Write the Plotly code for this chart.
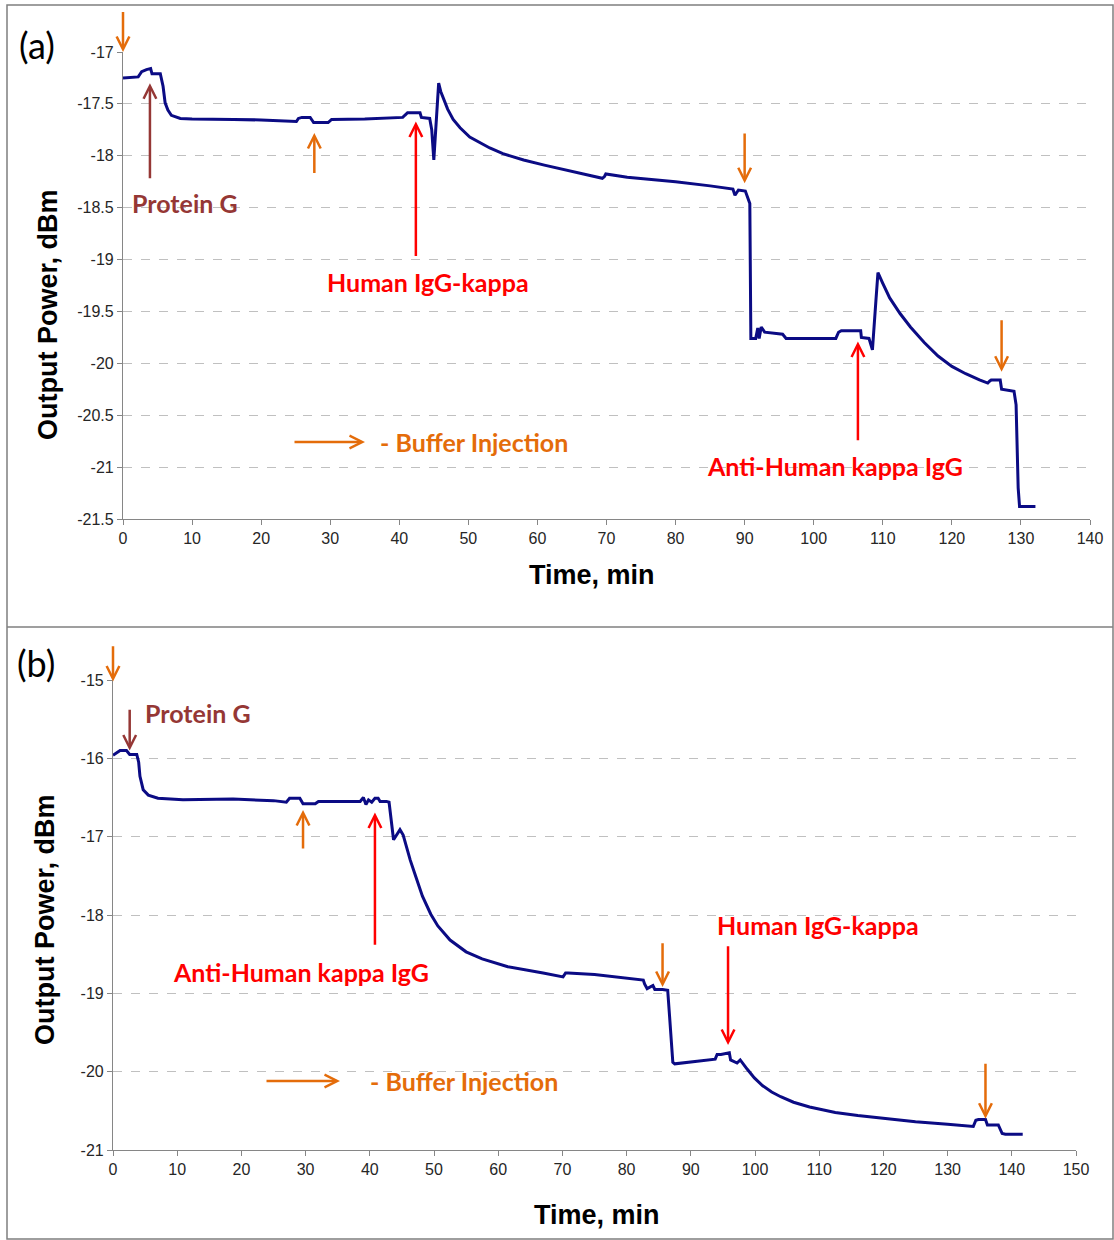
import plotly.graph_objects as go

W, H = 1114, 1240

# ---------------- data ----------------
time_a = [0, 2.2, 2.5, 2.7, 3.4, 4.0, 4.2, 5.4, 5.8, 6.1, 6.5, 7.0, 8.3, 10, 16, 20,
          25.1, 25.4, 25.9, 27.1, 27.4, 27.6, 29.7, 30.2, 35, 40.5, 40.8, 41.2, 43.0, 43.2,
          44.4, 44.7, 45.0, 45.3, 45.7, 46.0, 46.4, 47.0, 47.8, 48.8, 50.2, 51.5, 53.1, 55,
          58, 61, 63.3, 66, 69.4, 69.7, 69.9, 73, 80, 85, 88.3, 88.6, 89.1, 90.1, 90.4,
          90.75, 90.9, 91.6, 91.9, 92.1, 92.4, 92.9, 95.5, 96.0, 100, 103.2, 103.6, 104.0,
          106.8, 106.9, 108.0, 108.5, 109.0, 109.3, 110, 111, 112.5, 114, 116, 118,
          120, 122, 124, 125.2, 125.5, 125.7, 127.0, 127.2, 129.0, 129.3, 129.6, 129.8, 132.1]
power_a = [-17.25, -17.24, -17.21, -17.19, -17.17, -17.16, -17.21, -17.21, -17.33, -17.49,
           -17.56, -17.61, -17.64, -17.645, -17.65, -17.655, -17.67, -17.64, -17.63, -17.63,
           -17.66, -17.68, -17.68, -17.65, -17.645, -17.63, -17.61, -17.585, -17.585, -17.63,
           -17.64, -17.75, -18.04, -17.7, -17.30, -17.38, -17.45, -17.55, -17.65, -17.73,
           -17.82, -17.87, -17.925, -17.98, -18.04, -18.09, -18.125, -18.165, -18.217, -18.2,
           -18.175, -18.207, -18.25, -18.29, -18.32, -18.38, -18.33, -18.34, -18.39, -18.46,
           -19.76, -19.76, -19.66, -19.76, -19.65, -19.70, -19.72, -19.76, -19.76, -19.76,
           -19.70, -19.685, -19.685, -19.75, -19.76, -19.87, -19.4, -19.126, -19.23, -19.37,
           -19.52, -19.65, -19.8, -19.93, -20.03, -20.1, -20.16, -20.19, -20.17, -20.16,
           -20.16, -20.25, -20.27, -20.4, -21.2, -21.38, -21.38]

time_b = [0, 1.1, 2.1, 2.6, 3.7, 4.0, 4.2, 4.7, 5.5, 7, 10.9, 18.7, 25, 27.0, 27.5, 29.1,
          29.6, 31.5, 32, 38.5, 39.0, 39.4, 39.8, 40.3, 40.8, 41.3, 41.6, 42.6, 43.0, 43.3,
          43.7, 44.0, 44.7, 45.2, 45.8, 46.3, 47.0, 48.2, 49.5, 50.6, 52.5, 55, 57.5, 61.5,
          67, 70.1, 70.5, 70.9, 75, 82.6, 82.8, 83.2, 84.1, 84.4, 85.6, 86.4, 86.7, 87.2,
          87.5, 93.8, 94.1, 94.7, 96.0, 96.2, 97.2, 97.7, 98.8, 99.9, 101.2, 102.6, 104,
          106, 108.5, 112.5, 116, 120.2, 125, 130, 134.0, 134.4, 134.8, 135.9, 136.2, 137.9,
          138.5, 139, 141.7]
power_b = [-15.96, -15.90, -15.90, -15.95, -15.95, -16.05, -16.23, -16.40, -16.47, -16.51,
           -16.53, -16.52, -16.54, -16.56, -16.51, -16.51, -16.58, -16.58, -16.55, -16.55,
           -16.50, -16.59, -16.53, -16.56, -16.51, -16.51, -16.55, -16.55, -16.56, -16.75,
           -17.04, -17.0, -16.91, -16.98, -17.17, -17.3, -17.47, -17.76, -17.99, -18.14,
           -18.32, -18.47, -18.56, -18.66, -18.74, -18.79, -18.74, -18.74, -18.76, -18.83,
           -18.88, -18.94, -18.9, -18.95, -18.95, -18.96, -19.3, -19.88, -19.9, -19.84,
           -19.78, -19.78, -19.76, -19.85, -19.89, -19.85, -19.97, -20.08, -20.18, -20.26,
           -20.32, -20.39, -20.45, -20.52, -20.56, -20.6, -20.64, -20.67, -20.7, -20.62,
           -20.61, -20.61, -20.68, -20.68, -20.79, -20.8, -20.8]

xticks_a = [0, 10, 20, 30, 40, 50, 60, 70, 80, 90, 100, 110, 120, 130, 140]
yticks_a = [-17, -17.5, -18, -18.5, -19, -19.5, -20, -20.5, -21, -21.5]
yticklabels_a = ["-17", "-17.5", "-18", "-18.5", "-19", "-19.5", "-20", "-20.5", "-21", "-21.5"]
xticks_b = [0, 10, 20, 30, 40, 50, 60, 70, 80, 90, 100, 110, 120, 130, 140, 150]
yticks_b = [-15, -16, -17, -18, -19, -20, -21]
yticklabels_b = ["-15", "-16", "-17", "-18", "-19", "-20", "-21"]

# ---------------- styling ----------------
NAVY = "#0b0b84"
ORANGE = "#e46c0a"
BROWN = "#953735"
RED = "#ff0000"
TICKFONT = dict(family="Liberation Sans, Arial", size=16, color="#262626")
ANNFONT = "Lato"


def px(x):
    return x / W


def py(y):
    return 1 - y / H


fig = go.Figure()
fig.add_trace(go.Scatter(x=time_a, y=power_a, mode="lines", xaxis="x", yaxis="y",
                         line=dict(color=NAVY, width=3), showlegend=False))
fig.add_trace(go.Scatter(x=time_b, y=power_b, mode="lines", xaxis="x2", yaxis="y2",
                         line=dict(color=NAVY, width=3), showlegend=False))

axis_common = dict(showline=True, linecolor="#868686", linewidth=1.2, ticks="outside",
                   ticklen=5, tickcolor="#868686", tickfont=TICKFONT, zeroline=False,
                   automargin=False)

fig.update_layout(
    width=W, height=H, margin=dict(l=0, r=0, t=0, b=0, autoexpand=False),
    paper_bgcolor="white", plot_bgcolor="white",
    xaxis=dict(domain=[px(123), px(1090)], range=[0, 140], tickvals=xticks_a,
               showgrid=False, anchor="y", **axis_common),
    yaxis=dict(domain=[py(519), py(52)], range=[-21.5, -17], tickvals=yticks_a,
               ticktext=yticklabels_a, showgrid=True, gridcolor="#c0c0c0", griddash="dash",
               gridwidth=1, anchor="x", **axis_common),
    xaxis2=dict(domain=[px(113), px(1076)], range=[0, 150], tickvals=xticks_b,
                showgrid=False, anchor="y2", **axis_common),
    yaxis2=dict(domain=[py(1150), py(680)], range=[-21, -15], tickvals=yticks_b,
                ticktext=yticklabels_b, showgrid=True, gridcolor="#c0c0c0", griddash="dash",
                gridwidth=1, anchor="x2", **axis_common),
)

# panel frames
fig.add_shape(type="rect", xref="paper", yref="paper", x0=px(7), x1=px(1113),
              y0=py(1239), y1=py(5), line=dict(color="#7f7f7f", width=1.5))
fig.add_shape(type="line", xref="paper", yref="paper", x0=px(7), x1=px(1113),
              y0=py(627), y1=py(627), line=dict(color="#7f7f7f", width=1.5))

ann = []
HEAD = dict(showarrow=True, arrowhead=5, arrowsize=1.0, arrowwidth=2.5, standoff=0)


def arrow(xa, ya, x_tip, y_tip, x_tail, y_tail, color):
    ann.append(dict(xref=xa, yref=ya, axref=xa, ayref=ya, x=x_tip, y=y_tip,
                    ax=x_tail, ay=y_tail, text="", arrowcolor=color, **HEAD))


def text(x, y, s, color, size=25, bold=True, xanchor="center", angle=0, family=ANNFONT):
    ann.append(dict(xref="paper", yref="paper", x=px(x), y=py(y),
                    text=("<b>%s</b>" % s) if bold else s, showarrow=False,
                    xanchor=xanchor, yanchor="middle", textangle=angle,
                    font=dict(family=family, size=size, color=color)))


# panel (a) arrows
arrow("x", "y", 0, -17.0, 0, -16.6, ORANGE)
arrow("x", "y", 3.9, -17.30, 3.9, -18.23, BROWN)
arrow("x", "y", 27.7, -17.78, 27.7, -18.18, ORANGE)
arrow("x", "y", 42.4, -17.67, 42.4, -18.98, RED)
arrow("x", "y", 90.0, -18.265, 90.0, -17.77, ORANGE)
arrow("x", "y", 106.4, -19.79, 106.4, -20.755, RED)
arrow("x", "y", 127.2, -20.08, 127.2, -19.57, ORANGE)

# panel (b) arrows
arrow("x2", "y2", 0, -15.02, 0, -14.55, ORANGE)
arrow("x2", "y2", 2.6, -15.9, 2.6, -15.36, BROWN)
arrow("x2", "y2", 29.6, -16.66, 29.6, -17.17, ORANGE)
arrow("x2", "y2", 40.8, -16.69, 40.8, -18.4, RED)
arrow("x2", "y2", 85.6, -18.92, 85.6, -18.34, ORANGE)
arrow("x2", "y2", 95.8, -19.66, 95.8, -18.38, RED)
arrow("x2", "y2", 135.9, -20.6, 135.9, -19.88, ORANGE)

# legend arrows (buffer injection)
for x0, x1, yy in [(293, 365, 442), (265, 340, 1081)]:
    ann.append(dict(xref="paper", yref="paper", x=px(x1), y=py(yy), ax=-(x1 - x0), ay=0,
                    text="", arrowcolor=ORANGE, **HEAD))

# texts panel (a)
text(37, 45, "(a)", "black", size=36, bold=False)
text(185, 203, "Protein G", BROWN)
text(428, 282, "Human IgG-kappa", RED)
text(835, 466, "Anti-Human kappa IgG", RED)
text(378, 442, "- Buffer Injection", ORANGE, xanchor="left")
text(592, 575, "Time, min", "black", size=27, family="Liberation Sans, Arial")
text(48, 315, "Output Power, dBm", "black", size=27, angle=-90, family="Liberation Sans, Arial")

# texts panel (b)
text(36, 663, "(b)", "black", size=36, bold=False)
text(143, 713, "Protein G", BROWN, xanchor="left")
text(301, 972, "Anti-Human kappa IgG", RED)
text(818, 925, "Human IgG-kappa", RED)
text(368, 1081, "- Buffer Injection", ORANGE, xanchor="left")
text(597, 1215, "Time, min", "black", size=27, family="Liberation Sans, Arial")
text(45, 920, "Output Power, dBm", "black", size=27, angle=-90, family="Liberation Sans, Arial")

fig.update_layout(annotations=ann)
fig.write_html("out.html", config={"displayModeBar": False},
               post_script="document.body.style.margin='0px';"
                           "document.body.style.overflow='hidden';")
